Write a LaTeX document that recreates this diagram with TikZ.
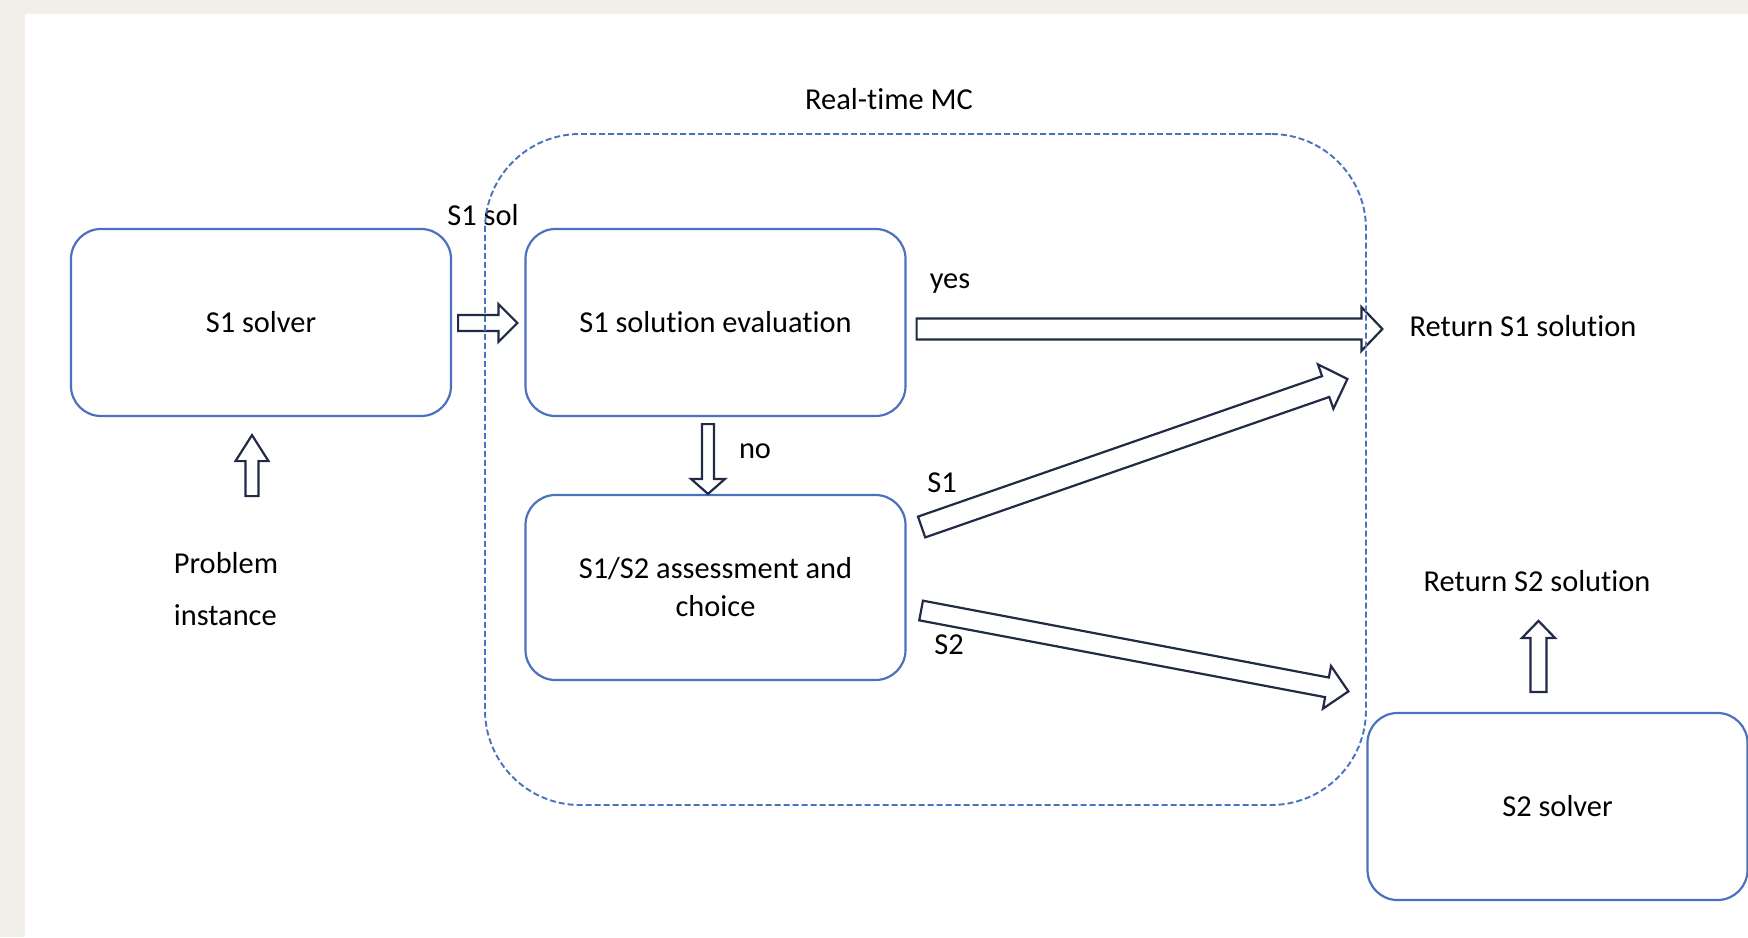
\documentclass[tikz,border=0pt]{standalone}
\usepackage{fontspec}
\setmainfont{Carlito}[Ligatures=NoCommon]
\usetikzlibrary{calc}

\definecolor{boxblue}{HTML}{4A72BE}
\definecolor{arrowink}{HTML}{222B45}
\definecolor{paper}{HTML}{F2EFE9}

% hollow block arrow: start, tip, shaft half width, head half width, head length
\newcommand{\blockarrow}[5]{%
  \draw[barrow] let \p1=(#1), \p2=(#2), \n1={atan2(\y2-\y1,\x2-\x1)} in
    ($(\p1)+(\n1+90:#3)$)
    -- ($(\p2)+(\n1+180:#5)+(\n1+90:#3)$)
    -- ($(\p2)+(\n1+180:#5)+(\n1+90:#4)$)
    -- (\p2)
    -- ($(\p2)+(\n1+180:#5)+(\n1-90:#4)$)
    -- ($(\p2)+(\n1+180:#5)+(\n1-90:#3)$)
    -- ($(\p1)+(\n1-90:#3)$) -- cycle;}

\tikzset{
  procbox/.style={draw=boxblue, line width=2.2pt, rounded corners=30pt, fill=white,
    minimum width=380pt, minimum height=187pt, inner sep=0pt, align=center},
  barrow/.style={draw=arrowink, line width=2.2pt, fill=white, line join=miter},
  lbl/.style={inner sep=0pt},
  mcframe/.style={draw=boxblue, line width=1.9pt, dash pattern=on 6pt off 3pt,
    rounded corners=95pt, minimum width=881pt, minimum height=671pt, inner sep=0pt}
}

\begin{document}
\begin{tikzpicture}[x=1pt, y=-1pt, font=\fontsize{30.4}{38}\selectfont]
\useasboundingbox (0,0) rectangle (1748,937);
\fill[paper] (0,0) rectangle (1748,937);
\fill[white] (25,14) rectangle (1748,937);

% process boxes
\node[procbox] (s1) at (261,322.5) {S1 solver};
\node[procbox] (eval) at (715.5,322.5) {S1 solution evaluation};
\node[procbox, minimum height=185pt] (assess) at (715.5,587.5) {S1/S2 assessment and\\choice};
\node[procbox] (s2) at (1557.5,806.5) {S2 solver};

% labels
\node[lbl] (mclbl) at (889,99) {Real-time MC};
\node[lbl] (sollbl) at (483,215) {S1 sol};
\node[lbl] (yes) at (950,284) {yes};
\node[lbl] (ret1) at (1523,326) {Return S1 solution};
\node[lbl] (no) at (755,451) {no};
\node[lbl] (c1) at (942,483) {S1};
\node[lbl] (c2) at (949,645) {S2};
\node[lbl] (ret2) at (1537,581) {Return S2 solution};
\node[lbl, align=left, font=\fontsize{30.4}{52}\selectfont] (prob) at (226,589) {Problem\\instance};

% arrow end points
\coordinate (a1s) at ($(s1.east)+(6,0.5)$);
\coordinate (a1e) at ($(eval.west)+(-7,0.5)$);
\coordinate (yess) at ($(eval.east)+(10,6.5)$);
\coordinate (yese) at ($(ret1.west)+(-27,3)$);
\coordinate (nos) at ($(eval.south)+(-7.5,7)$);
\coordinate (noe) at ($(assess.north)+(-7.5,0)$);
\coordinate (ps) at ($(s1.south)+(-9,79)$);
\coordinate (pe) at ($(s1.south)+(-9,18)$);
\coordinate (s2s) at ($(s2.north)+(-19,-20)$);
\coordinate (s2e) at ($(s2.north)+(-19,-91)$);
\coordinate (d1s) at ($(assess.east)+(15,-60.5)$);
\coordinate (d1e) at ($(ret1.west)+(-62,53)$);
\coordinate (d2s) at ($(assess.east)+(14.5,23)$);
\coordinate (d2e) at ($(s2.north west)+(-18,-20.5)$);

% block arrows
\blockarrow{a1s}{a1e}{8pt}{19pt}{19pt}
\blockarrow{yess}{yese}{10.5pt}{22pt}{21pt}
\blockarrow{nos}{noe}{6pt}{17pt}{15pt}
\blockarrow{ps}{pe}{6.5pt}{16.5pt}{26pt}
\blockarrow{s2s}{s2e}{8pt}{16.5pt}{17pt}
\blockarrow{d1s}{d1e}{11pt}{23.5pt}{23pt}
\blockarrow{d2s}{d2e}{10pt}{21.7pt}{21.8pt}

% real-time metacognition frame
\node[mcframe] (mc) at (925.5,469.5) {};
\end{tikzpicture}
\end{document}
